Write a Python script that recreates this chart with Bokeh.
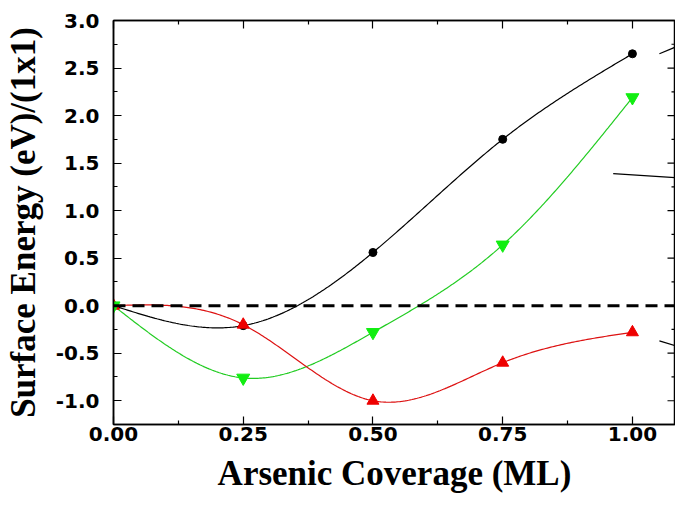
import numpy as np
from bokeh.plotting import figure
from bokeh.models import (Range1d, LinearAxis, FixedTicker, NumeralTickFormatter, Span,
                          CustomJSTickFormatter)
from bokeh.embed import file_html
from bokeh.resources import INLINE

# ---- data ----
coverage = [0.0, 0.25, 0.50, 0.75, 1.00]
black_energy = [0.0, -0.21, 0.56, 1.75, 2.65]
green_energy = [0.0, -0.76, -0.28, 0.64, 2.19]
red_energy = [0.0, -0.20, -1.00, -0.60, -0.28]

x_major_ticks = [0.0, 0.25, 0.50, 0.75, 1.00]
x_minor_ticks = [0.125, 0.375, 0.625, 0.875, 1.125]
y_major_ticks = [-1.0, -0.5, 0.0, 0.5, 1.0, 1.5, 2.0, 2.5, 3.0]
y_minor_ticks = [-0.75, -0.25, 0.25, 0.75, 1.25, 1.75, 2.25, 2.75]

# leader lines at the right edge (to labels outside the crop)
leader_x0 = [1.052, 0.963, 1.052]
leader_y0 = [2.65, 1.39, -0.37]
leader_x1 = [1.10, 1.10, 1.10]
leader_y1 = [2.76, 1.34, -0.45]

x_title = "Arsenic Coverage (ML)"
y_title = "Surface Energy (eV)/(1x1)"

X_MAX = 1.083  # right edge of the visible (cropped) frame


def spline(xs, ys, n=300):
    """Natural cubic spline through the data points (for drawing the smooth connection)."""
    xs = np.asarray(xs, float)
    ys = np.asarray(ys, float)
    m = len(xs) - 1
    h = np.diff(xs)
    A = np.zeros((m + 1, m + 1))
    r = np.zeros(m + 1)
    A[0, 0] = 1
    A[m, m] = 1
    for i in range(1, m):
        A[i, i - 1] = h[i - 1]
        A[i, i] = 2 * (h[i - 1] + h[i])
        A[i, i + 1] = h[i]
        r[i] = 6 * ((ys[i + 1] - ys[i]) / h[i] - (ys[i] - ys[i - 1]) / h[i - 1])
    M = np.linalg.solve(A, r)
    xx = np.linspace(xs[0], xs[-1], n)
    idx = np.clip(np.searchsorted(xs, xx, side="right") - 1, 0, m - 1)
    x0, x1 = xs[idx], xs[idx + 1]
    hh = h[idx]
    a = (x1 - xx) / hh
    b = (xx - x0) / hh
    yy = (a * ys[idx] + b * ys[idx + 1]
          + ((a ** 3 - a) * M[idx] + (b ** 3 - b) * M[idx + 1]) * hh ** 2 / 6)
    return xx, yy


p = figure(width=675, height=498, output_backend="svg", toolbar_location=None,
           x_range=Range1d(0, X_MAX), y_range=Range1d(-1.25, 3.0),
           min_border_left=112, min_border_right=0, min_border_top=20, min_border_bottom=74,
           x_axis_location=None, y_axis_location=None)
p.outline_line_color = "black"
p.outline_line_width = 1.5
p.xgrid.visible = False
p.ygrid.visible = False
p.background_fill_color = "white"
p.border_fill_color = "white"

xt = FixedTicker(ticks=x_major_ticks, minor_ticks=x_minor_ticks)
yt = FixedTicker(ticks=y_major_ticks, minor_ticks=y_minor_ticks)
blank = CustomJSTickFormatter(code="return '';")


def style(ax, labels):
    ax.axis_line_color = "black"
    ax.axis_line_width = 1.5
    ax.major_tick_in = 8
    ax.major_tick_out = 0
    ax.minor_tick_in = 4
    ax.minor_tick_out = 0
    ax.major_tick_line_color = "black"
    ax.minor_tick_line_color = "black"
    ax.major_tick_line_width = 1.2
    ax.minor_tick_line_width = 1.2
    if labels:
        ax.major_label_text_font = "DejaVu Sans"
        ax.major_label_text_font_style = "bold"
        ax.major_label_text_font_size = "20px"
        ax.major_label_text_color = "black"
        ax.axis_label_text_font = "Liberation Serif"
        ax.axis_label_text_font_style = "bold"
        ax.axis_label_text_font_size = "35px"
        ax.axis_label_text_color = "black"
    else:
        ax.major_label_standoff = 0


bottom = LinearAxis(ticker=xt, formatter=NumeralTickFormatter(format="0.00"), axis_label=x_title)
style(bottom, True)
bottom.major_label_standoff = 2
bottom.axis_label_standoff = 10
left = LinearAxis(ticker=yt, formatter=NumeralTickFormatter(format="0.0"), axis_label=y_title)
style(left, True)
left.major_label_standoff = 14
left.axis_label_standoff = 10
top = LinearAxis(ticker=xt, formatter=blank)
style(top, False)
p.add_layout(bottom, "below")
p.add_layout(left, "left")
p.add_layout(top, "above")

# inward ticks along the right edge of the frame (outer half is clipped by the frame)
p.scatter([X_MAX] * len(y_major_ticks), y_major_ticks, marker="dash", size=16,
          line_color="black", line_width=1.2)
p.scatter([X_MAX] * len(y_minor_ticks), y_minor_ticks, marker="dash", size=8,
          line_color="black", line_width=1.2)

bx, by = spline(coverage, black_energy)
gx, gy = spline(coverage, green_energy)
rx, ry = spline(coverage, red_energy)
p.line(bx, by, line_color="black", line_width=1.2)
p.line(gx, gy, line_color="#22cc22", line_width=1.2)
p.line(rx, ry, line_color="#dd1111", line_width=1.2)

p.add_layout(Span(location=0, dimension="width", line_color="black", line_width=3,
                  line_dash="12 7"))

p.segment(leader_x0, leader_y0, leader_x1, leader_y1, line_color="black", line_width=1.2)

p.scatter(coverage, black_energy, marker="circle", size=8, fill_color="black", line_color="black")
p.scatter(coverage, red_energy, marker="triangle", size=12, fill_color="#ee0000", line_color="#ee0000")
p.scatter(coverage, green_energy, marker="inverted_triangle", size=13, fill_color="#11ee11",
          line_color="#11ee11")

open("out.html", "w").write(file_html(p, INLINE))
